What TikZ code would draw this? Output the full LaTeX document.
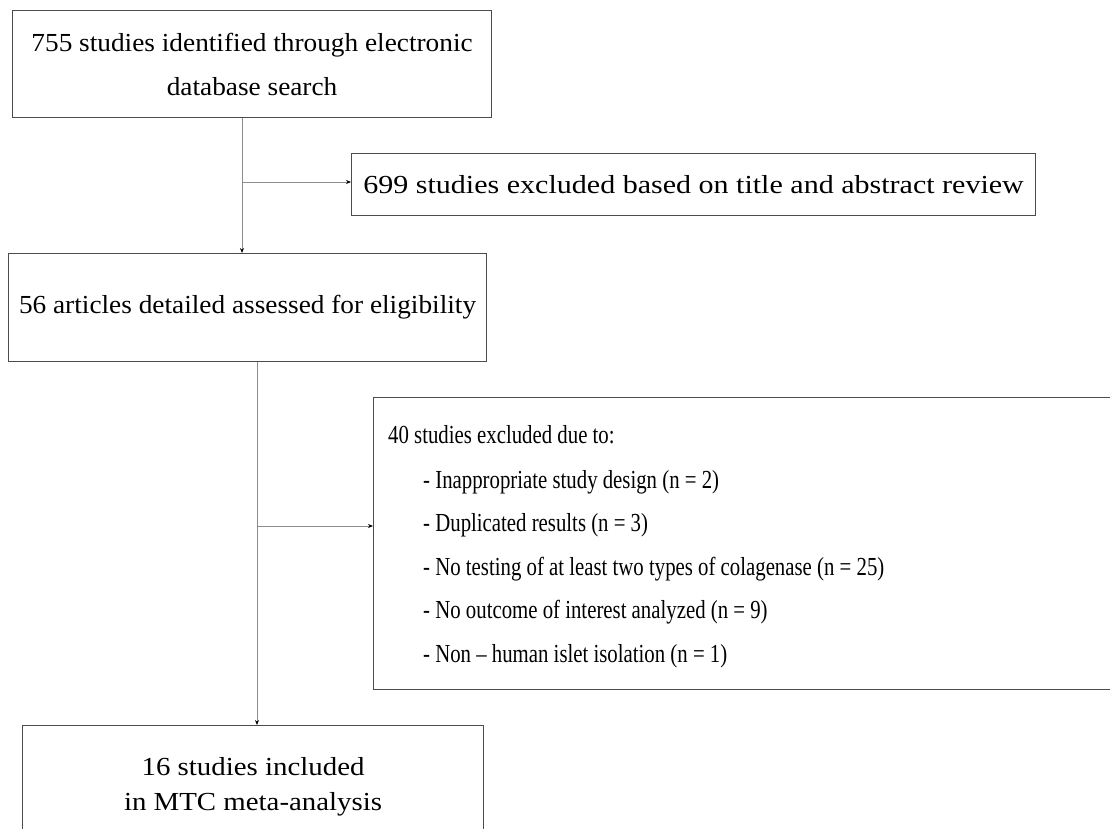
\documentclass[tikz,border=0pt]{standalone}
\usepackage{fontspec}
\setmainfont[FakeStretch=0.8]{Liberation Serif}
\newfontfamily\fontAB[FakeStretch=1.05]{Liberation Serif}
\newfontfamily\fontC[FakeStretch=1.155]{Liberation Serif}
\newfontfamily\fontF[FakeStretch=1.11]{Liberation Serif}
\usetikzlibrary{arrows.meta}
\begin{document}
\begin{tikzpicture}[x=1pt,y=-1pt,
  box/.style={draw=black!70, line width=1.2pt, inner sep=0pt, anchor=north west, align=center},
  conn/.style={draw=black!45, line width=0.9pt},
  arr/.style={conn, -{Stealth[length=5pt,width=4pt,black]}},
  txt/.style={font=\fontsize{26}{43.5}\selectfont, inner sep=0pt, align=left}
]
\clip (0,0) rectangle (1110,829);
\fill[white] (0,0) rectangle (1110,829);
\node[box, minimum width=479pt, minimum height=107pt, font=\fontAB\fontsize{26}{44}\selectfont] (a) at (12,10) {755 studies identified through electronic\\database search};
\node[box, minimum width=684pt, minimum height=62pt, font=\fontC\fontsize{26}{44}\selectfont] (c) at (351,153) {699 studies excluded based on title and abstract review};
\node[box, minimum width=478pt, minimum height=108pt, font=\fontAB\fontsize{26}{44}\selectfont] (b) at (8,253) {56 articles detailed assessed for eligibility};
\node[box, minimum width=760pt, minimum height=292pt] (e) at (373,397) {};
\node[txt, anchor=north west] (et) at (388,425) {40 studies excluded due to:\\[1.5pt]
\hspace*{35pt}- Inappropriate study design (n = 2)\\
\hspace*{35pt}- Duplicated results (n = 3)\\
\hspace*{35pt}- No testing of at least two types of colagenase (n = 25)\\
\hspace*{35pt}- No outcome of interest analyzed (n = 9)\\
\hspace*{35pt}- Non -- human islet isolation (n = 1)};
\node[box, minimum width=461pt, minimum height=122pt, font=\fontF\fontsize{26}{35}\selectfont] (f) at (22,725) {16 studies included\\in MTC meta-analysis};
\coordinate (v1) at (242,0);
\coordinate (v2) at (257,0);
\coordinate (h1) at (0,182);
\coordinate (h2) at (0,526);
\draw[arr] (a.south -| v1) -- (b.north -| v1);
\draw[arr] (v1 |- h1) -- (c.west |- h1);
\draw[arr] (b.south -| v2) -- (f.north -| v2);
\draw[arr] (v2 |- h2) -- (e.west |- h2);
\end{tikzpicture}
\end{document}
